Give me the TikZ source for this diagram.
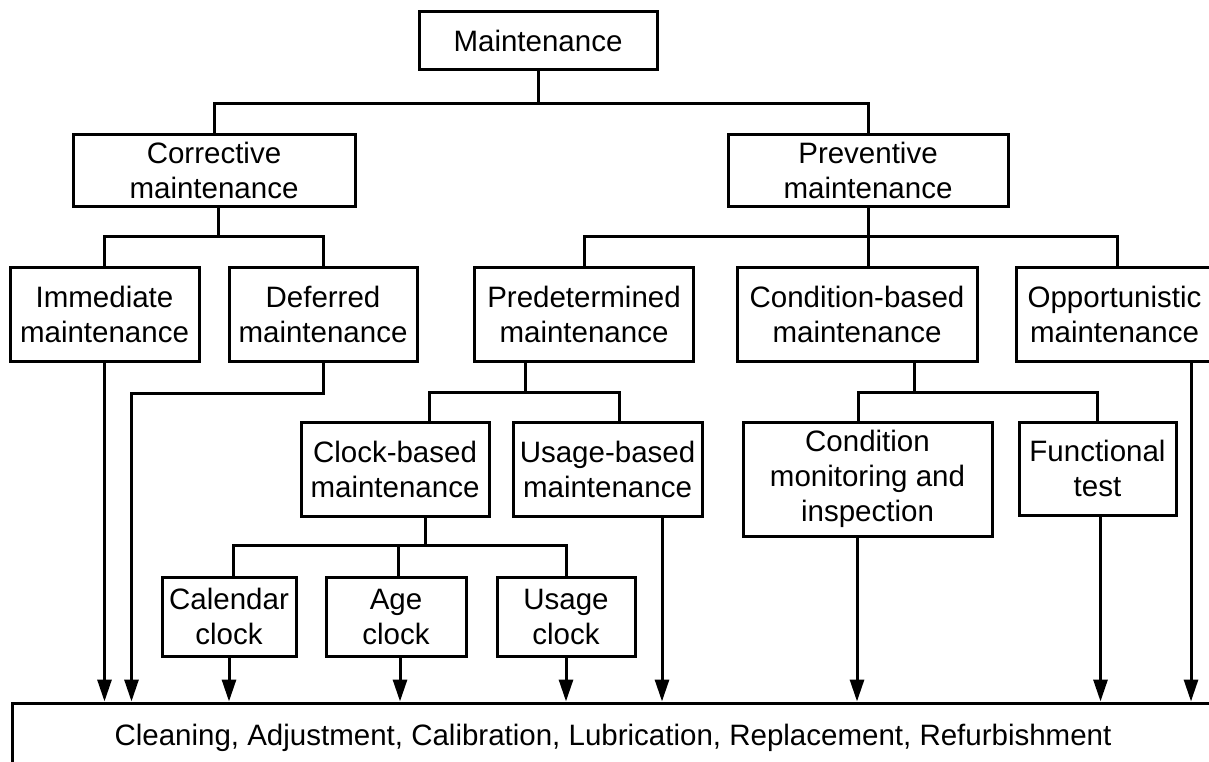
\documentclass[tikz,border=0pt]{standalone}
\usepackage{fontspec}
\setmainfont{Liberation Sans}
\usetikzlibrary{arrows.meta}
\newcommand\fsz{\fontsize{29.5}{35}\selectfont}
\begin{document}
\begin{tikzpicture}[x=1pt,y=-1pt,
  box/.style={draw, line width=3pt, inner sep=0pt, align=center, font=\fsz},
  ln/.style={line width=3pt},
  arr/.style={line width=3pt, -{Triangle[length=22pt,width=14pt]}}]
\useasboundingbox (0,0) rectangle (1209,762);
\clip (0,0) rectangle (1209,762);
% nodes
\node[box, minimum width=238, minimum height=58] (maint) at (538,41) {Maintenance};
\node[box, minimum width=282, minimum height=71] (cor) at (214,170.5) {Corrective\\maintenance};
\node[box, minimum width=280, minimum height=71] (prev) at (868,170.5) {Preventive\\maintenance};
\node[box, minimum width=189, minimum height=94] (imm) at (104.5,314) {Immediate\\maintenance};
\node[box, minimum width=188, minimum height=94] (def) at (323,314) {Deferred\\maintenance};
\node[box, minimum width=219, minimum height=94] (pred) at (584,314) {Predetermined\\maintenance};
\node[box, minimum width=240, minimum height=94] (cond) at (857,314) {Condition-based\\maintenance};
\node[box, minimum width=197, minimum height=94] (opp) at (1114.5,314) {Opportunistic\\maintenance};
\node[box, minimum width=188, minimum height=94] (clk) at (395,469) {Clock-based\\maintenance};
\node[box, minimum width=189, minimum height=94] (usb) at (607.5,469) {Usage-based\\maintenance};
\node[box, minimum width=249, minimum height=114] (cmi) at (867.5,479) {Condition\\monitoring and\\inspection};
\node[box, minimum width=157, minimum height=93] (ft) at (1097.5,468.5) {Functional\\test};
\node[box, minimum width=134, minimum height=79] (cal) at (229,616.5) {Calendar\\clock};
\node[box, minimum width=140, minimum height=79] (age) at (396,616.5) {Age\\clock};
\node[box, minimum width=138, minimum height=79] (usc) at (566,616.5) {Usage\\clock};
\node[box, minimum width=1202, minimum height=70] (bot) at (613,738) {Cleaning, Adjustment, Calibration, Lubrication, Replacement, Refurbishment};
% bus levels
\coordinate (yA) at (0,104);
\coordinate (yB) at (0,236);
\coordinate (yC) at (0,392);
\coordinate (yD) at (0,545);
% tree connectors
\draw[ln] (maint.south) -- (maint.south |- yA);
\draw[ln] (cor.north) -- (cor.north |- yA) -| (prev.north);
\draw[ln] ([xshift=4]cor.south) -- ([xshift=4]cor.south |- yB);
\draw[ln] (imm.north) -- (imm.north |- yB) -| (def.north);
\draw[ln] (prev.south) -- ([xshift=11]cond.north);
\draw[ln] (pred.north) -- (pred.north |- yB) -| ([xshift=2.5]opp.north);
\draw[ln] ([xshift=-59]pred.south) -- ([xshift=-59]pred.south |- yC);
\draw[ln] ([xshift=34]clk.north) -- ([xshift=34]clk.north |- yC) -| ([xshift=11.5]usb.north);
\draw[ln] ([xshift=57]cond.south) -- ([xshift=57]cond.south |- yC);
\draw[ln] ([xshift=-9.5]cmi.north) -- ([xshift=-9.5]cmi.north |- yC) -| (ft.north);
\draw[ln] ([xshift=30]clk.south) -- ([xshift=30]clk.south |- yD);
\draw[ln] ([xshift=4]cal.north) -- ([xshift=4]cal.north |- yD) -| (usc.north);
\draw[ln] ([xshift=2]age.north) -- ([xshift=2]age.north |- yD);
% arrows to the bottom box
\draw[arr] (imm.south) -- (imm.south |- bot.north);
\draw[arr] (def.south) -- ++(0,31) -| ([xshift=121]bot.north west);
\draw[arr] (cal.south) -- (cal.south |- bot.north);
\draw[arr] ([xshift=4]age.south) -- ([xshift=4]age.south |- bot.north);
\draw[arr] (usc.south) -- (usc.south |- bot.north);
\draw[arr] ([xshift=54.5]usb.south) -- ([xshift=54.5]usb.south |- bot.north);
\draw[arr] ([xshift=-10.5]cmi.south) -- ([xshift=-10.5]cmi.south |- bot.north);
\draw[arr] ([xshift=3]ft.south) -- ([xshift=3]ft.south |- bot.north);
\draw[arr] ([xshift=76.5]opp.south) -- ([xshift=76.5]opp.south |- bot.north);
\end{tikzpicture}
\end{document}
